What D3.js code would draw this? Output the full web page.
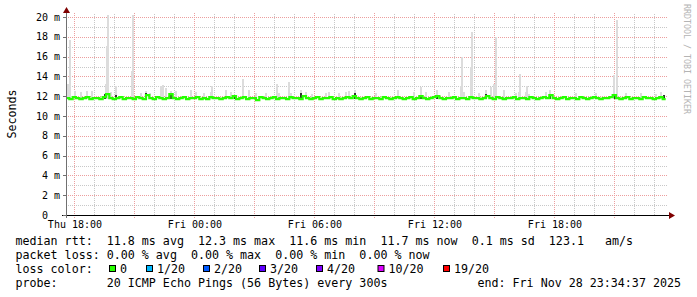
<!DOCTYPE html>
<html><head><meta charset="utf-8">
<script src="https://cdn.jsdelivr.net/npm/d3@7"></script>
<style>
html,body{margin:0;padding:0;background:#fff;}
svg{display:block;}
text{font-family:"DejaVu Sans Mono",monospace;white-space:pre;}
</style>
</head><body><svg id="c" width="697" height="297"></svg>
<script>
// ---------- data ----------
const startTime = "2025-11-27T17:34:37";
const endTime = "2025-11-28T23:34:37";
const yTicks = [0, 2, 4, 6, 8, 10, 12, 14, 16, 18, 20];
const yTickLabels = ["0  ", "2 m", "4 m", "6 m", "8 m", "10 m", "12 m", "14 m", "16 m", "18 m", "20 m"];
const xTickTimes = ["2025-11-27T18:00", "2025-11-28T00:00", "2025-11-28T06:00", "2025-11-28T12:00", "2025-11-28T18:00"];
const xTickLabels = ["Thu 18:00", "Fri 00:00", "Fri 06:00", "Fri 12:00", "Fri 18:00"];
const yAxisTitle = "Seconds";
const watermark = "RRDTOOL / TOBI OETIKER";

// median rtt (ms), one value every 10 minutes from start
const medianRtt = [
  11.8,11.7,11.9,11.8,11.7,11.8,11.9,11.7,11.8,11.8,11.7,11.9,
  12.2,11.8,11.7,11.8,11.9,11.7,11.8,11.8,11.7,11.9,11.8,11.7,
  12.1,11.8,11.7,11.9,11.8,11.7,11.8,12.2,11.8,11.7,11.8,11.9,
  11.7,11.8,11.8,11.9,11.7,11.8,11.7,11.9,11.8,11.8,11.7,11.8,
  11.9,11.8,12.0,11.7,11.8,11.9,11.7,11.8,11.8,11.6,11.9,11.8,
  11.7,11.8,11.9,11.7,11.8,11.8,11.7,11.9,11.8,11.8,11.7,12.0,
  11.8,11.7,11.8,11.9,11.7,11.8,11.8,11.9,11.7,11.8,11.7,11.8,
  11.9,11.8,12.0,11.8,11.7,11.8,11.9,11.7,11.8,11.8,11.7,11.9,
  11.8,11.7,11.8,11.9,11.8,11.7,11.8,11.9,11.7,11.8,12.0,11.8,
  11.7,11.8,11.9,12.0,11.8,11.7,11.8,11.8,11.9,11.7,11.8,11.8,
  11.7,11.9,11.8,11.8,11.7,11.8,12.0,11.8,11.7,11.9,11.8,11.7,
  11.8,11.8,11.9,11.7,11.8,11.8,11.7,11.9,11.8,11.7,11.8,11.9,
  11.8,12.1,11.8,11.7,11.8,11.9,11.7,11.8,11.8,11.7,11.9,11.8,
  11.7,11.8,11.9,11.8,11.7,11.8,11.8,11.9,12.1,11.8,11.7,11.8,
  11.9,11.7,11.8,11.8,11.7,11.9,11.8,11.8,11.7,11.8,11.9,11.7
];
// light smoke: hours after start, upper edge (ms)
const smokeHour = [0.1,0.2,0.45,0.75,1.05,1.3,2.0,2.05,2.12,2.25,2.5,3.32,3.37,3.75,4.0,4.2,4.75,4.87,5.02,5.25,5.5,6.25,6.5,6.9,7.25,7.32,
  8.0,8.25,8.85,9.15,9.5,10.0,10.55,10.65,11.15,11.25,11.75,12.0,12.3,13.0,13.15,13.65,14.0,14.15,14.45,
  15.5,16.6,17.4,17.75,18.0,18.55,19.15,19.75,19.82,19.9,20.25,20.32,20.65,21.0,21.25,21.4,21.5,21.9,22.5,22.65,
  22.72,23.0,23.05,23.15,24.0,24.2,25.5,26.5,27.4,27.55,28.0,28.75,29.5,29.75];
const smokeTop = [13.2,17.7,12.5,12.4,12.5,12.5,13.2,17.1,20.2,12.4,13.0,14.5,20.2,12.3,12.5,12.3,13.0,13.1,12.8,12.5,12.5,12.6,12.4,12.3,12.4,13.0,
  12.6,12.4,13.7,12.6,12.3,12.3,13.2,12.3,13.4,12.3,12.6,12.4,12.2,12.3,12.4,12.3,12.4,12.5,12.6,
  12.3,12.6,12.4,12.9,12.4,12.6,12.4,13.0,16.0,12.4,15.0,18.5,12.3,12.6,12.9,13.2,18.0,12.6,12.3,12.4,
  14.2,12.4,13.0,12.2,12.4,12.6,12.3,12.3,14.1,19.7,12.3,12.3,12.2,12.4];
// dark smoke near the median
const darkHour = [1.95,2.5,4.0,5.25,8.45,11.75,14.45,17.75,18.55,21.0,24.2,27.45,29.9];
const darkTop = [12.25,12.15,12.3,12.25,12.1,12.3,12.35,12.1,12.15,12.2,12.25,12.15,12.1];

const legendRtt = "median rtt:  11.8 ms avg  12.3 ms max  11.6 ms min  11.7 ms now  0.1 ms sd  123.1   am/s";
const legendLoss = "packet loss: 0.00 % avg  0.00 % max  0.00 % min  0.00 % now";
const colorLabel = "loss color:";
const lossLabels = ["0", "1/20", "2/20", "3/20", "4/20", "10/20", "19/20"];
const lossColors = ["#26ff00", "#00b8ff", "#0059ff", "#5e00ff", "#7e00ff", "#dd00ff", "#ff0000"];
const legendProbe = "probe:       20 ICMP Echo Pings (56 Bytes) every 300s";
const endText = "end: Fri Nov 28 23:34:37 2025";

// ---------- layout ----------
const svg = d3.select("#c");
svg.append("rect").attr("width", 697).attr("height", 297).attr("fill", "#fff");
const t0 = new Date(startTime), t1 = new Date(endTime);
const x = d3.scaleTime().domain([t0, t1]).range([66, 666]);
const y = d3.scaleLinear().domain([0, 20]).range([215, 17]);
const hx = h => x(new Date(t0.getTime() + h * 3600e3));
const px = v => Math.round(v) + 0.5;
const plotRight = 668, plotTop = 13;

// grid
const g = svg.append("g");
const minorY = d3.range(1, 21).filter(v => v % 2 !== 0);
g.selectAll(".hmin").data(minorY).join("line")
  .attr("x1", 66).attr("x2", plotRight).attr("y1", d => px(y(d))).attr("y2", d => px(y(d)))
  .attr("stroke", "#c8c8c8").attr("stroke-dasharray", "1,1");
const hours = d3.timeHour.range(t0, t1);
g.selectAll(".vmin").data(hours.filter(d => d.getHours() % 3 !== 0)).join("line")
  .attr("x1", d => px(x(d))).attr("x2", d => px(x(d))).attr("y1", 215).attr("y2", plotTop)
  .attr("stroke", "#c8c8c8").attr("stroke-dasharray", "1,1");
g.selectAll(".hmaj").data(yTicks.filter(v => v > 0)).join("line")
  .attr("x1", 66).attr("x2", plotRight).attr("y1", d => px(y(d))).attr("y2", d => px(y(d)))
  .attr("stroke", "#ec9e9e").attr("stroke-dasharray", "1,1");
g.selectAll(".vmaj").data(hours.filter(d => d.getHours() % 3 === 0)).join("line")
  .attr("x1", d => px(x(d))).attr("x2", d => px(x(d))).attr("y1", 218).attr("y2", plotTop)
  .attr("stroke", "#ec9e9e").attr("stroke-dasharray", "1,1");

// smoke
const sw = 2;
svg.append("g").selectAll("rect").data(smokeHour.map((h, i) => [h, smokeTop[i]])).join("rect")
  .attr("x", d => Math.round(hx(d[0])) - 1).attr("width", sw)
  .attr("y", d => Math.round(y(d[1]))).attr("height", d => Math.round(y(11.7)) - Math.round(y(d[1])))
  .attr("fill", "#dcdcdc").attr("shape-rendering", "crispEdges");
svg.append("g").selectAll("rect").data(darkHour.map((h, i) => [h, darkTop[i]])).join("rect")
  .attr("x", d => Math.round(hx(d[0])) - 1).attr("width", sw)
  .attr("y", d => Math.round(y(d[1]))).attr("height", d => Math.round(y(11.7)) - Math.round(y(d[1])))
  .attr("fill", "#333").attr("shape-rendering", "crispEdges");

// median line
const med = medianRtt.map((v, i) => [new Date(t0.getTime() + i * 600e3), v]);
med.push([new Date(t0.getTime() + medianRtt.length * 600e3 - 60e3), medianRtt[medianRtt.length - 1]]);
svg.append("path").datum(med)
  .attr("d", d3.line().x(d => x(d[0])).y(d => y(d[1])).curve(d3.curveStepAfter))
  .attr("fill", "none").attr("stroke", "#26ff00").attr("stroke-width", 2.2);

// axes
svg.append("line").attr("x1", 62).attr("x2", 670).attr("y1", 215.5).attr("y2", 215.5).attr("stroke", "#000");
svg.append("line").attr("x1", 66.5).attr("x2", 66.5).attr("y1", 218).attr("y2", 12).attr("stroke", "#707070");
svg.append("path").attr("d", "M66.5,7 L70,13 L63,13 Z").attr("fill", "#7f0000");
svg.append("path").attr("d", "M675,215.5 L669,212 L669,219 Z").attr("fill", "#7f0000");
svg.append("g").selectAll("line").data(yTicks).join("line")
  .attr("x1", 63).attr("x2", 66).attr("y1", d => px(y(d))).attr("y2", d => px(y(d))).attr("stroke", "#707070");

// tick labels
svg.append("g").selectAll("text").data(yTicks).join("text")
  .attr("x", 60).attr("y", d => y(d) + 3.6).attr("text-anchor", "end")
  .attr("font-size", 10).attr("fill", "#000").text((d, i) => yTickLabels[i]);
svg.append("g").selectAll("text").data(xTickTimes).join("text")
  .attr("x", d => x(new Date(d)) + 0.5).attr("y", 228).attr("text-anchor", "middle")
  .attr("font-size", 10).attr("fill", "#000").text((d, i) => xTickLabels[i]);

svg.append("text").attr("transform", "translate(15.5,114) rotate(-90)").attr("text-anchor", "middle")
  .attr("font-size", 11.67).attr("fill", "#000").text(yAxisTitle);
svg.append("text").attr("transform", "translate(684,4) rotate(90)").attr("text-anchor", "start")
  .attr("font-size", 8.6).attr("fill", "#b4b4b4")
  .attr("textLength", 110).attr("lengthAdjust", "spacingAndGlyphs").text(watermark);

// legend
const fs = 11.67;
const rows = [244.8, 258.8, 272.8, 286.8];
const leg = svg.append("g").attr("font-size", fs).attr("fill", "#000");
leg.append("text").attr("x", 15.5).attr("y", rows[0]).text(legendRtt);
leg.append("text").attr("x", 15.5).attr("y", rows[1]).text(legendLoss);
leg.append("text").attr("x", 15.5).attr("y", rows[2]).text(colorLabel);
const boxX = [109, 146, 203, 259, 316, 377.5, 443];
lossLabels.forEach((s, i) => {
  leg.append("rect").attr("x", boxX[i] + 0.5).attr("y", 265.5).attr("width", 6).attr("height", 6)
    .attr("fill", lossColors[i]).attr("stroke", "#000").attr("stroke-width", 1);
  leg.append("text").attr("x", boxX[i] + 11).attr("y", rows[2]).text(s);
});
leg.append("text").attr("x", 15.5).attr("y", rows[3]).text(legendProbe);
leg.append("text").attr("x", 681).attr("y", rows[3]).attr("text-anchor", "end").text(endText);
</script>
</body></html>
